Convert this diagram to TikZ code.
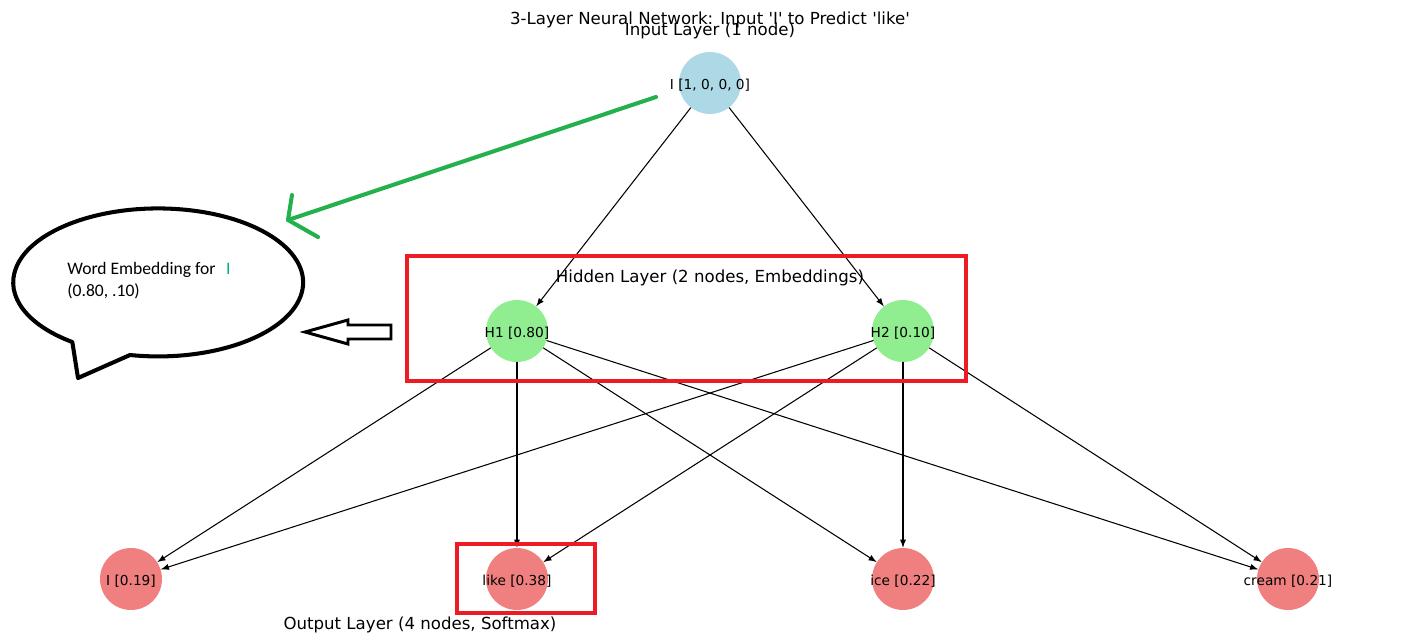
\documentclass[tikz,border=0pt]{standalone}
\usepackage{fontspec}
\setmainfont{DejaVu Sans}
\newfontfamily\paintfont{Carlito}
\usetikzlibrary{arrows}
\definecolor{inblue}{HTML}{ADD8E6}
\definecolor{hidgreen}{HTML}{90EE90}
\definecolor{outred}{HTML}{F08080}
\definecolor{boxred}{HTML}{ED1C24}
\definecolor{penngreen}{HTML}{22B14C}
\definecolor{cursorgreen}{HTML}{00B07A}

\begin{document}
\begin{tikzpicture}[line cap=round,line join=round,>=latex,x=0.02cm,y=0.02cm,
    neuron/.style={circle,minimum size=1.24cm,inner sep=0pt},
    lbl/.style={font=\fontsize{7.8}{9}\selectfont,inner sep=0pt,yshift=-1pt},
    caption/.style={font=\fontsize{9.45}{11}\selectfont,inner sep=0pt},
    edge/.style={line width=0.6pt},
    redbox/.style={draw=boxred,line width=2.3pt,line cap=butt,line join=miter}]
\useasboundingbox (0,0) rectangle (1420,643);
% titles
\node[caption] (title) at (710,623) {3-Layer Neural Network: Input \textquotesingle I\textquotesingle{} to Predict \textquotesingle like\textquotesingle};
\node[caption] (inlayer) at (710,612) {Input Layer (1 node)};
\node[caption] (hidlayer) at (710,365) {Hidden Layer (2 nodes, Embeddings)};
\node[caption] (outlayer) at (420,18) {Output Layer (4 nodes, Softmax)};
% neurons
\node[neuron,fill=inblue] (in) at (710,560) {};
\node[lbl] at (in) {I [1, 0, 0, 0]};
\foreach \n/\x/\t in {h1/517/{H1 [0.80]},h2/903/{H2 [0.10]}}{
  \node[neuron,fill=hidgreen] (\n) at (\x,312) {};
  \node[lbl] at (\n) {\t};
}
\foreach \n/\x/\t in {o1/131/{I [0.19]},o2/517/{like [0.38]},o3/903/{ice [0.22]},o4/1288/{cream [0.21]}}{
  \node[neuron,fill=outred] (\n) at (\x,64) {};
  \node[lbl] at (\n) {\t};
}
% connections
\foreach \b in {h1,h2}
\draw[->,edge] (in) -- (\b);
\foreach \a in {h1,h2}
\foreach \b in {o1,o2,o3,o4}
\draw[->,edge] (\a) -- (\b);
% highlights
\draw[redbox] (407,262) rectangle (966,387);
\draw[redbox] (457,30) rectangle (595,99);
% green pen arrow
\coordinate (gstart) at (656,546);
\coordinate (gtip) at (288,423);
\draw[penngreen,line width=2.3pt] (gstart) -- (gtip) -- (292,448);
\draw[penngreen,line width=2.3pt] (gtip) -- (318,406);
% speech bubble
\draw[line width=2.3pt] (130,288) arc[start angle=258.8,end angle=593.7,x radius=2.9cm,y radius=1.48cm] -- (78,265) -- cycle;
\node[font=\paintfont\fontsize{10}{12}\selectfont,anchor=base west,inner sep=0pt] (wordemb) at (67,368) {Word Embedding for\hspace{0.6em}{\color{cursorgreen}I}};
\node[font=\paintfont\fontsize{10}{12}\selectfont,anchor=base west,inner sep=0pt] (embval) at (67,346) {(0.80, .10)};
% hollow arrow
\draw[line width=1.7pt,line join=miter] (305,311) -- (348,323) -- (348,318) -- (391,318) -- (391,304) -- (348,304) -- (348,299) -- cycle;
\end{tikzpicture}
\end{document}
